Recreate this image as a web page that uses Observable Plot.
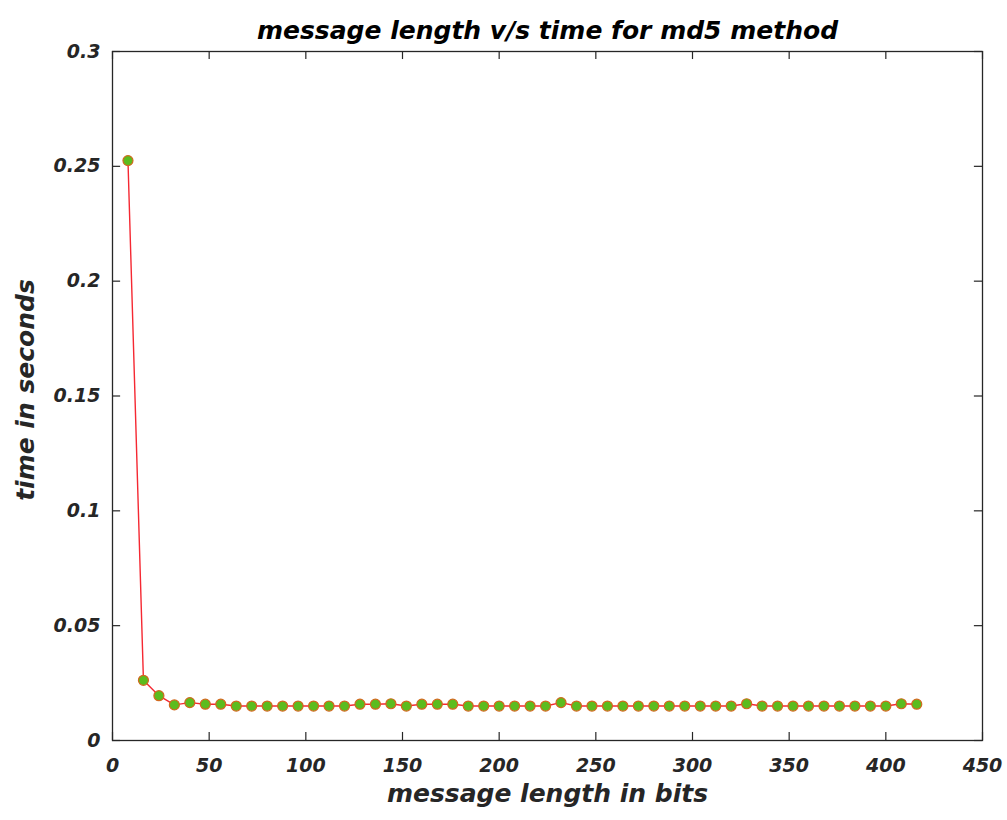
<!DOCTYPE html>
<html>
<head>
<meta charset="utf-8">
<script src="https://cdn.jsdelivr.net/npm/d3@7"></script>
<script src="https://cdn.jsdelivr.net/npm/@observablehq/plot@0.6"></script>
<style>
  html, body { margin: 0; padding: 0; background: #ffffff; }
</style>
</head>
<body>
<div id="chart"></div>
<script>
const titleText = "message length v/s time for md5 method";
const xLabel = "message length in bits";
const yLabel = "time in seconds";

const messageBits = [8, 16, 24, 32, 40, 48, 56, 64, 72, 80, 88, 96, 104, 112, 120, 128, 136, 144, 152, 160,
  168, 176, 184, 192, 200, 208, 216, 224, 232, 240, 248, 256, 264, 272, 280, 288, 296, 304, 312, 320,
  328, 336, 344, 352, 360, 368, 376, 384, 392, 400, 408, 416];
const timeSeconds = [0.2525, 0.0262, 0.0195, 0.0155, 0.0165, 0.0158, 0.0158, 0.0150, 0.0150, 0.0150,
  0.0150, 0.0150, 0.0150, 0.0150, 0.0150, 0.0158, 0.0158, 0.0160, 0.0150, 0.0158,
  0.0158, 0.0158, 0.0150, 0.0150, 0.0150, 0.0150, 0.0150, 0.0150, 0.0165, 0.0150,
  0.0150, 0.0150, 0.0150, 0.0150, 0.0150, 0.0150, 0.0150, 0.0150, 0.0150, 0.0150,
  0.0160, 0.0150, 0.0150, 0.0150, 0.0150, 0.0150, 0.0150, 0.0150, 0.0150, 0.0150,
  0.0160, 0.0158];

const xTicks = [0, 50, 100, 150, 200, 250, 300, 350, 400, 450];
const yTicks = [0, 0.05, 0.1, 0.15, 0.2, 0.25, 0.3];

const xDomain = [0, 450];
const yDomain = [0, 0.3];
// inward tick length expressed in data units (~8px)
const xTickLen = 0.0035;
const yTickLen = 4.2;

const data = messageBits.map((x, i) => ({x, y: timeSeconds[i]}));

const fmt = d => `${d}`;
const tickColor = "#262626";

const chart = Plot.plot({
  width: 1007,
  height: 820,
  marginLeft: 112,
  marginRight: 25,
  marginTop: 51,
  marginBottom: 80,
  style: {
    fontFamily: "DejaVu Sans",
    fontWeight: "bold",
    fontStyle: "italic",
    fontSize: "19px",
    color: "#262626",
    background: "#ffffff"
  },
  x: {domain: xDomain},
  y: {domain: yDomain},
  marks: [
    Plot.axisX(xTicks, {anchor: "bottom", tickSize: 0, tickPadding: 18, tickFormat: fmt, label: null, fontSize: 19}),
    Plot.axisY(yTicks, {anchor: "left", tickSize: 0, tickPadding: 12, tickFormat: fmt, label: null, fontSize: 19}),
    // inward ticks on all four sides
    Plot.ruleX(xTicks, {x: d => d, y1: yDomain[0], y2: yDomain[0] + xTickLen, stroke: tickColor, strokeWidth: 1.2}),
    Plot.ruleX(xTicks, {x: d => d, y1: yDomain[1] - xTickLen, y2: yDomain[1], stroke: tickColor, strokeWidth: 1.2}),
    Plot.ruleY(yTicks, {y: d => d, x1: xDomain[0], x2: xDomain[0] + yTickLen, stroke: tickColor, strokeWidth: 1.2}),
    Plot.ruleY(yTicks, {y: d => d, x1: xDomain[1] - yTickLen, x2: xDomain[1], stroke: tickColor, strokeWidth: 1.2}),
    Plot.frame({stroke: tickColor, strokeWidth: 1.3}),
    Plot.line(data, {x: "x", y: "y", stroke: "#f52832", strokeWidth: 1.4}),
    Plot.dot(data, {x: "x", y: "y", r: 5, fill: "#5cbc1e", stroke: "#d2691e", strokeWidth: 1.2}),
    Plot.text([titleText], {text: d => d, frameAnchor: "top", lineAnchor: "middle", textAnchor: "middle", dy: -21, fontSize: 25, fill: "#000000"}),
    Plot.text([xLabel], {text: d => d, frameAnchor: "bottom", lineAnchor: "middle", textAnchor: "middle", dy: 53, fontSize: 25, fill: "#262626"}),
    Plot.text([yLabel], {text: d => d, frameAnchor: "left", lineAnchor: "middle", textAnchor: "middle", rotate: -90, dx: -87, dy: -6, fontSize: 25, fill: "#262626"})
  ]
});

document.getElementById("chart").appendChild(chart);
</script>
</body>
</html>
